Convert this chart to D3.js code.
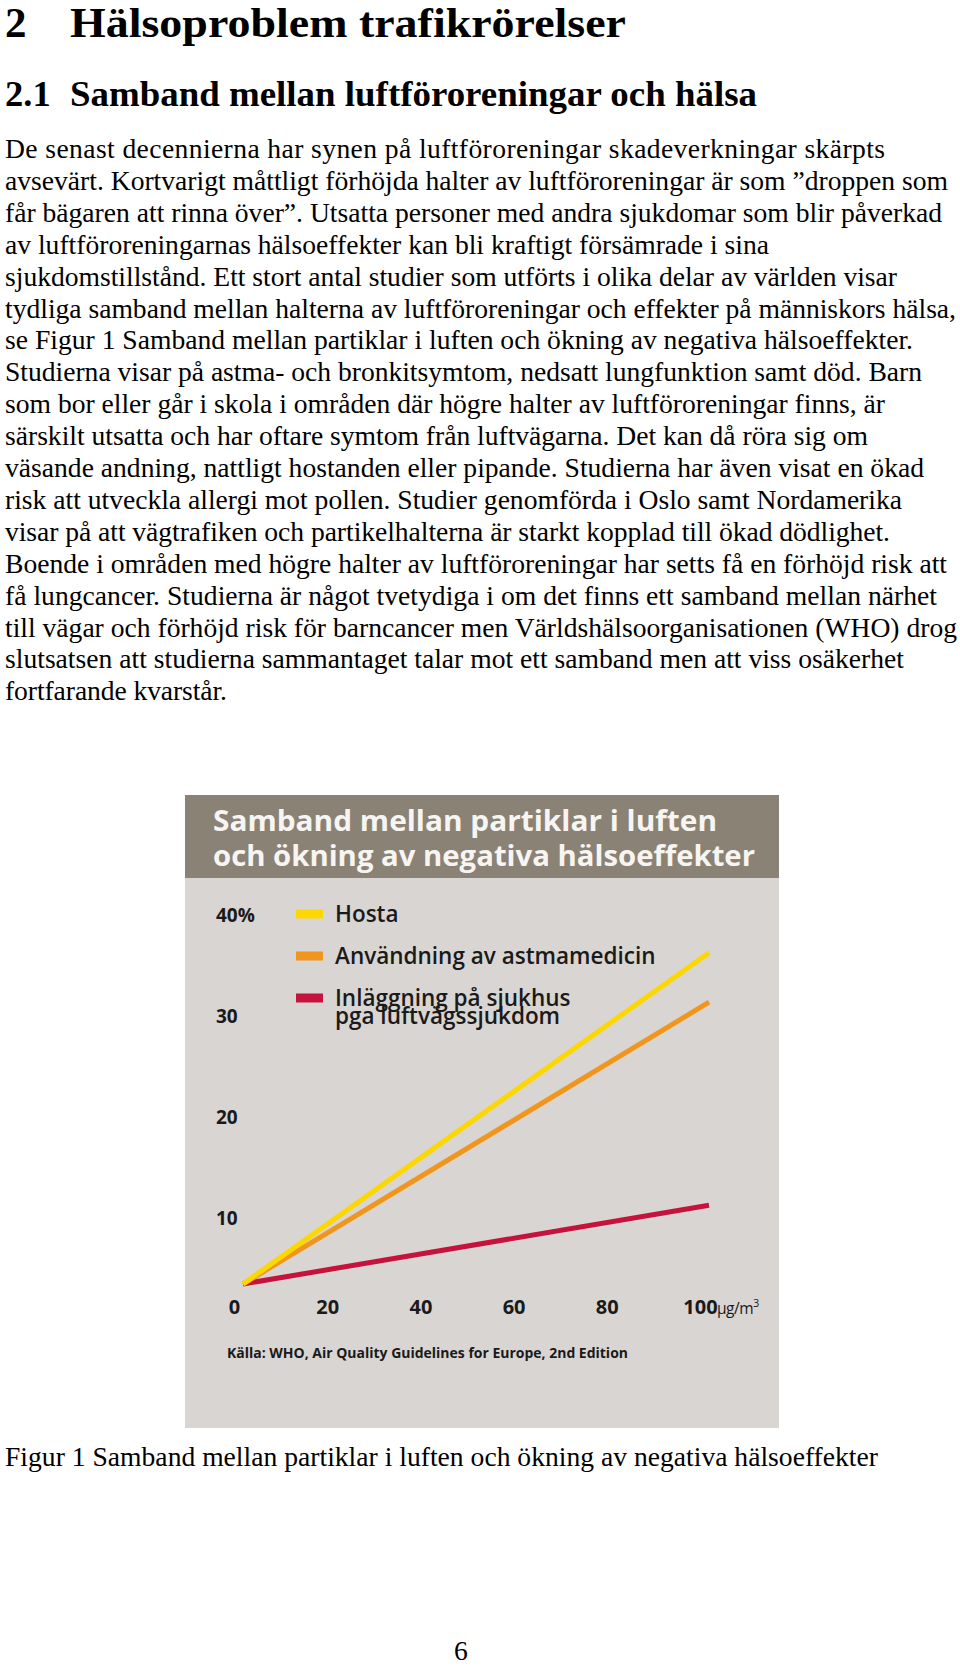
<!DOCTYPE html>
<html>
<head>
<meta charset="utf-8">
<script src="https://cdn.jsdelivr.net/npm/d3@7"></script>
<style>
  html, body { margin: 0; padding: 0; background: #fff; }
  svg { display: block; }
</style>
</head>
<body>
<svg id="page" width="960" height="1668"></svg>
<script>
// ---------- DATA ----------
const heading1Num = "2";
const heading1 = "Hälsoproblem trafikrörelser";
const heading2Num = "2.1";
const heading2 = "Samband mellan luftföroreningar och hälsa";
const bodyLines = [
  "De senast decennierna har synen på luftföroreningar skadeverkningar skärpts",
  "avsevärt. Kortvarigt måttligt förhöjda halter av luftföroreningar är som ”droppen som",
  "får bägaren att rinna över”. Utsatta personer med andra sjukdomar som blir påverkad",
  "av luftföroreningarnas hälsoeffekter kan bli kraftigt försämrade i sina",
  "sjukdomstillstånd. Ett stort antal studier som utförts i olika delar av världen visar",
  "tydliga samband mellan halterna av luftföroreningar och effekter på människors hälsa,",
  "se Figur 1 Samband mellan partiklar i luften och ökning av negativa hälsoeffekter.",
  "Studierna visar på astma- och bronkitsymtom, nedsatt lungfunktion samt död. Barn",
  "som bor eller går i skola i områden där högre halter av luftföroreningar finns, är",
  "särskilt utsatta och har oftare symtom från luftvägarna. Det kan då röra sig om",
  "väsande andning, nattligt hostanden eller pipande. Studierna har även visat en ökad",
  "risk att utveckla allergi mot pollen. Studier genomförda i Oslo samt Nordamerika",
  "visar på att vägtrafiken och partikelhalterna är starkt kopplad till ökad dödlighet.",
  "Boende i områden med högre halter av luftföroreningar har setts få en förhöjd risk att",
  "få lungcancer. Studierna är något tvetydiga i om det finns ett samband mellan närhet",
  "till vägar och förhöjd risk för barncancer men Världshälsoorganisationen (WHO) drog",
  "slutsatsen att studierna sammantaget talar mot ett samband men att viss osäkerhet",
  "fortfarande kvarstår."
];
const chartTitle = ["Samband mellan partiklar i luften", "och ökning av negativa hälsoeffekter"];
const seriesNames = ["Hosta", "Användning av astmamedicin", "Inläggning på sjukhus\npga luftvägssjukdom"];
const seriesColors = ["#fcd700", "#f0961c", "#c5133d"];
// concentration (µg/m3) and percent increase for each series
const concentration = [0, 100];
const hostaValues = [0, 32.8];
const astmaValues = [0, 27.9];
const sjukhusValues = [0, 7.8];
const xTicks = [0, 20, 40, 60, 80, 100];
const yTicks = [10, 20, 30, 40];
const xUnit = "µg/m";
const sourceText = "Källa: WHO, Air Quality Guidelines for Europe, 2nd Edition";
const captionText = "Figur 1 Samband mellan partiklar i luften och ökning av negativa hälsoeffekter";
const pageNumber = "6";

// ---------- LAYOUT (pixel extents of the scanned page) ----------
const bodyRightEdges = [885, 948, 942, 769, 897, 956, 913, 922, 885, 868, 924, 902, 890, 947, 937, 957, 904, 227];

// ---------- DRAW ----------
const svg = d3.select("#page");
svg.append("rect").attr("width", 960).attr("height", 1668).attr("fill", "#fff");

const serif = "'Liberation Serif', 'Times New Roman', serif";
const sans = "'Open Sans', 'Noto Sans', sans-serif";

// headings
svg.append("text").attr("x", 5).attr("y", 37).attr("font-family", serif)
  .attr("font-weight", 700).attr("font-size", 43).text(heading1Num);
svg.append("text").attr("x", 70).attr("y", 37).attr("font-family", serif)
  .attr("font-weight", 700).attr("font-size", 43)
  .attr("textLength", 556).attr("lengthAdjust", "spacingAndGlyphs").text(heading1);
svg.append("text").attr("x", 5).attr("y", 106).attr("font-family", serif)
  .attr("font-weight", 700).attr("font-size", 36.5).text(heading2Num);
svg.append("text").attr("x", 70).attr("y", 106).attr("font-family", serif)
  .attr("font-weight", 700).attr("font-size", 36.5)
  .attr("textLength", 687).attr("lengthAdjust", "spacingAndGlyphs").text(heading2);

// body
svg.append("g").selectAll("text").data(bodyLines).join("text")
  .attr("x", 5).attr("y", (d, i) => 158 + i * 31.9)
  .attr("font-family", serif).attr("font-size", 27.6).attr("fill", "#000")
  .attr("textLength", (d, i) => bodyRightEdges[i] - 5).attr("lengthAdjust", "spacing")
  .text(d => d);

// ---------- chart panel ----------
const panel = { x: 185, y: 795, w: 594, h: 633, band: 83 };
svg.append("rect").attr("x", panel.x).attr("y", panel.y).attr("width", panel.w).attr("height", panel.h)
  .attr("fill", "#d9d5d2");
svg.append("rect").attr("x", panel.x).attr("y", panel.y).attr("width", panel.w).attr("height", panel.band)
  .attr("fill", "#8b8276");
svg.append("g").selectAll("text").data(chartTitle).join("text")
  .attr("x", 213).attr("y", (d, i) => 831 + i * 35)
  .attr("font-family", sans).attr("font-weight", 700).attr("font-size", 29)
  .attr("fill", "#f7f5f2")
  .attr("textLength", (d, i) => i === 0 ? 504 : 542).attr("lengthAdjust", "spacingAndGlyphs")
  .text(d => d);

const x = d3.scaleLinear().domain([0, 100]).range([243, 709]);
const y = d3.scaleLinear().domain([0, 40]).range([1284, 880]);

// x axis labels
const xAxis = d3.axisBottom(x).tickValues(xTicks).tickSize(0).tickPadding(0).tickFormat(d3.format("d"));
const gx = svg.append("g").attr("transform", "translate(-9, 1314)").call(xAxis);
gx.select(".domain").remove();
gx.selectAll("text").attr("font-family", sans).attr("font-weight", 700).attr("font-size", 20)
  .attr("fill", "#1a1a1a").attr("dy", 0).attr("y", 0);
const unit = svg.append("text").attr("x", x(100) + 8).attr("y", 1314)
  .attr("font-family", sans).attr("font-size", 15.5).attr("fill", "#1a1a1a").attr("letter-spacing", -0.5);
unit.append("tspan").text(xUnit);
unit.append("tspan").attr("dy", -7).attr("font-size", 11).text("3");

// y axis labels
const yAxis = d3.axisLeft(y).tickValues(yTicks).tickSize(0).tickPadding(0)
  .tickFormat(d => d === 40 ? "40%" : String(d));
const gy = svg.append("g").attr("transform", "translate(216, 35)").call(yAxis);
gy.select(".domain").remove();
gy.selectAll("text").attr("font-family", sans).attr("font-weight", 700).attr("font-size", 19)
  .attr("fill", "#1a1a1a").attr("text-anchor", "start").attr("x", 0).attr("dy", "0.36em");

// lines
const seriesValues = [hostaValues, astmaValues, sjukhusValues];
const line = d3.line().x(d => x(d[0])).y(d => y(d[1]));
[2, 1, 0].forEach(i => {
  svg.append("path")
    .datum(concentration.map((c, j) => [c, seriesValues[i][j]]))
    .attr("d", line).attr("fill", "none")
    .attr("stroke", seriesColors[i]).attr("stroke-width", 5).attr("stroke-linecap", "butt");
});

// legend
const legendY = [914, 956, 998];
const lg = svg.append("g");
seriesNames.forEach((name, i) => {
  lg.append("rect").attr("x", 296).attr("y", legendY[i] - 4.5).attr("width", 27).attr("height", 9)
    .attr("fill", seriesColors[i]);
  name.split("\n").forEach((part, k) => {
    lg.append("text").attr("x", 335).attr("y", legendY[i] + 8 + k * 18)
      .attr("font-family", sans).attr("font-weight", 600).attr("font-size", 22.5).attr("fill", "#1a1a1a")
      .text(part);
  });
});

// source
svg.append("text").attr("x", 227).attr("y", 1358)
  .attr("font-family", sans).attr("font-weight", 700).attr("font-size", 15).attr("fill", "#1a1a1a")
  .attr("textLength", 401).attr("lengthAdjust", "spacingAndGlyphs")
  .text(sourceText);

// caption + page number
svg.append("text").attr("x", 5).attr("y", 1466).attr("font-family", serif).attr("font-size", 27.6)
  .attr("textLength", 873).attr("lengthAdjust", "spacing")
  .text(captionText);
svg.append("text").attr("x", 461).attr("y", 1660).attr("text-anchor", "middle")
  .attr("font-family", serif).attr("font-size", 27.6).text(pageNumber);
</script>
</body>
</html>
